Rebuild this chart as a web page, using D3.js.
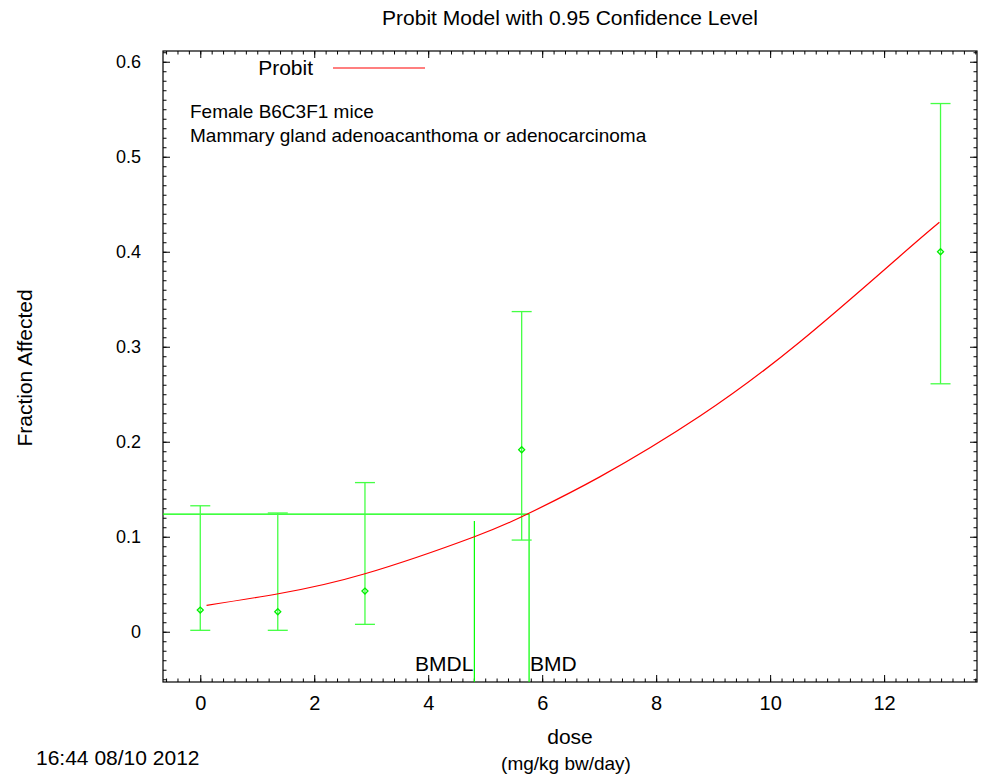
<!DOCTYPE html>
<html>
<head>
<meta charset="utf-8">
<script src="https://cdn.jsdelivr.net/npm/d3@7"></script>
<style>
  body { margin: 0; background: #fff; }
  svg { font-family: "Liberation Sans", Arial, sans-serif; }
  .tick line { stroke: #000; }
  .domain { display: none; }
</style>
</head>
<body>
<svg width="981" height="779"></svg>
<script>
// observed data: dose, fraction affected, 95% CI
var doses = [0, 1.36, 2.89, 5.64, 12.99];
var fractions = [0.0228, 0.021, 0.0428, 0.1916, 0.400];
var lowerCI = [0.0015, 0.0015, 0.0078, 0.0965, 0.261];
var upperCI = [0.1326, 0.125, 0.157, 0.337, 0.556];

// fitted probit curve
var curveDose = [0.11, 1.37, 2.89, 4.81, 5.73, 7.01, 8.77, 10.52, 12.27, 12.97];
var curveFrac = [0.0278, 0.040, 0.061, 0.100, 0.1236, 0.163, 0.227, 0.305, 0.395, 0.431];

// benchmark dose markers
var bmr = 0.1239;
var bmd = 5.77;
var bmdl = 4.81;
var bmdlTop = 0.1165;

var xTicks = [0, 2, 4, 6, 8, 10, 12];
var yTicks = [0, 0.1, 0.2, 0.3, 0.4, 0.5, 0.6];

var svg = d3.select('svg');
var plot = {l: 163, r: 977, t: 51, b: 682};

var xScale = d3.scaleLinear().domain([-0.654, 13.63]).range([plot.l, plot.r]);
var yScale = d3.scaleLinear().domain([-0.0529, 0.6113]).range([plot.b, plot.t]);

var green = '#00ff00';
var barGreen = '#44ff44';

// frame
svg.append('rect')
    .attr('x', plot.l).attr('y', plot.t)
    .attr('width', plot.r - plot.l).attr('height', plot.b - plot.t)
    .attr('fill', 'none').attr('stroke', '#000').attr('stroke-width', 1.2);

var xMinor = d3.range(-0.6, 13.61, 0.2);
var yMinor = d3.range(-0.05, 0.611, 0.01);

// bottom axis with labels
svg.append('g')
    .attr('transform', 'translate(0,' + plot.b + ')')
    .call(d3.axisBottom(xScale).tickValues(xTicks).tickSize(-7).tickPadding(14).tickFormat(d3.format('d')))
    .call(g => g.selectAll('text').attr('font-size', 20).attr('font-family', null).attr('fill', '#000'));
svg.append('g')
    .attr('transform', 'translate(0,' + plot.b + ')')
    .call(d3.axisBottom(xScale).tickValues(xMinor).tickSize(-3.5).tickFormat(''));
// top axis
svg.append('g')
    .attr('transform', 'translate(0,' + plot.t + ')')
    .call(d3.axisTop(xScale).tickValues(xTicks).tickSize(-7).tickFormat(''));
svg.append('g')
    .attr('transform', 'translate(0,' + plot.t + ')')
    .call(d3.axisTop(xScale).tickValues(xMinor).tickSize(-3.5).tickFormat(''));

// left axis with labels
svg.append('g')
    .attr('transform', 'translate(' + plot.l + ',0)')
    .call(d3.axisLeft(yScale).tickValues(yTicks).tickSize(-7).tickPadding(22).tickFormat(d3.format('')))
    .call(g => g.selectAll('text').attr('font-size', 18).attr('font-family', null).attr('fill', '#000'));
svg.append('g')
    .attr('transform', 'translate(' + plot.l + ',0)')
    .call(d3.axisLeft(yScale).tickValues(yMinor).tickSize(-3.5).tickFormat(''));
// right axis
svg.append('g')
    .attr('transform', 'translate(' + plot.r + ',0)')
    .call(d3.axisRight(yScale).tickValues(yTicks).tickSize(-7).tickFormat(''));
svg.append('g')
    .attr('transform', 'translate(' + plot.r + ',0)')
    .call(d3.axisRight(yScale).tickValues(yMinor).tickSize(-3.5).tickFormat(''));

// BMR / BMD / BMDL lines
svg.append('line')
    .attr('x1', plot.l).attr('x2', xScale(bmd))
    .attr('y1', yScale(bmr)).attr('y2', yScale(bmr))
    .attr('stroke', green).attr('stroke-width', 1.2);
svg.append('line')
    .attr('x1', xScale(bmd)).attr('x2', xScale(bmd))
    .attr('y1', yScale(bmr)).attr('y2', plot.b)
    .attr('stroke', green).attr('stroke-width', 1.2);
svg.append('line')
    .attr('x1', xScale(bmdl)).attr('x2', xScale(bmdl))
    .attr('y1', yScale(bmdlTop)).attr('y2', plot.b)
    .attr('stroke', green).attr('stroke-width', 1.2);

svg.append('text')
    .attr('x', xScale(bmdl) - 1).attr('y', 671)
    .attr('text-anchor', 'end').attr('font-size', 21)
    .text('BMDL');
svg.append('text')
    .attr('x', xScale(bmd) + 1).attr('y', 671)
    .attr('font-size', 21)
    .text('BMD');

// error bars
var obs = doses.map((d, i) => ({dose: d, frac: fractions[i], lo: lowerCI[i], hi: upperCI[i]}));
var bars = svg.selectAll('.errbar')
    .data(obs)
    .enter()
    .append('g')
    .attr('class', 'errbar')
    .attr('stroke', barGreen)
    .attr('stroke-width', 1.3)
    .attr('fill', 'none');
bars.append('line')
    .attr('x1', d => xScale(d.dose)).attr('x2', d => xScale(d.dose))
    .attr('y1', d => yScale(d.lo)).attr('y2', d => yScale(d.hi));
bars.append('line')
    .attr('x1', d => xScale(d.dose) - 10).attr('x2', d => xScale(d.dose) + 10)
    .attr('y1', d => yScale(d.lo)).attr('y2', d => yScale(d.lo));
bars.append('line')
    .attr('x1', d => xScale(d.dose) - 10).attr('x2', d => xScale(d.dose) + 10)
    .attr('y1', d => yScale(d.hi)).attr('y2', d => yScale(d.hi));
bars.append('path')
    .attr('d', d => {
        var cx = xScale(d.dose), cy = yScale(d.frac);
        return 'M' + (cx - 3) + ',' + cy + 'L' + cx + ',' + (cy - 3) + 'L' + (cx + 3) + ',' + cy + 'L' + cx + ',' + (cy + 3) + 'Z';
    })
    .attr('stroke', '#00ee00');

// model curve
var curvePts = curveDose.map((d, i) => [d, curveFrac[i]]);
var line = d3.line()
    .x(d => xScale(d[0]))
    .y(d => yScale(d[1]))
    .curve(d3.curveNatural);
svg.append('path')
    .attr('d', line(curvePts))
    .attr('fill', 'none')
    .attr('stroke', '#ff0000')
    .attr('stroke-width', 1.2);

// legend
svg.append('text')
    .attr('x', 313).attr('y', 75)
    .attr('text-anchor', 'end').attr('font-size', 21)
    .text('Probit');
svg.append('line')
    .attr('x1', 333).attr('x2', 425).attr('y1', 68).attr('y2', 68)
    .attr('stroke', '#ff0000').attr('stroke-width', 1.2);

// annotations
svg.append('text').attr('x', 190).attr('y', 118).attr('font-size', 19).text('Female B6C3F1 mice');
svg.append('text').attr('x', 190).attr('y', 142).attr('font-size', 19).text('Mammary gland adenoacanthoma or adenocarcinoma');

// titles
svg.append('text')
    .attr('x', 570).attr('y', 25)
    .attr('text-anchor', 'middle').attr('font-size', 21)
    .text('Probit Model with 0.95 Confidence Level');
svg.append('text')
    .attr('transform', 'translate(32,368) rotate(-90)')
    .attr('text-anchor', 'middle').attr('font-size', 21)
    .text('Fraction Affected');
svg.append('text')
    .attr('x', 570).attr('y', 744)
    .attr('text-anchor', 'middle').attr('font-size', 21)
    .text('dose');
svg.append('text')
    .attr('x', 566).attr('y', 770)
    .attr('text-anchor', 'middle').attr('font-size', 19)
    .text('(mg/kg bw/day)');
svg.append('text')
    .attr('x', 36).attr('y', 765)
    .attr('font-size', 21)
    .text('16:44 08/10 2012');
</script>
</body>
</html>
